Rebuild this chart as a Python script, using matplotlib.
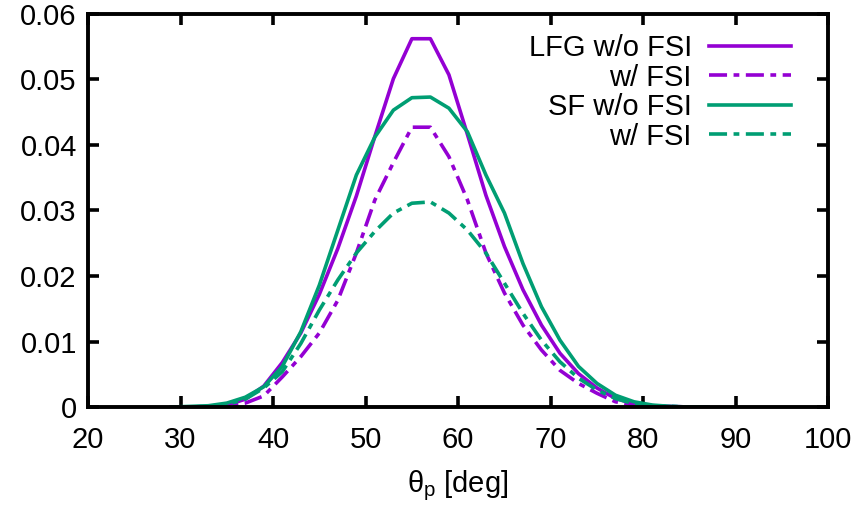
"""
Proton angular distribution, LFG vs SF, with and without FSI
"""

import numpy as np
import matplotlib
matplotlib.use('Agg')
import matplotlib.pyplot as plt

# data (2 deg bins)
theta = [29, 31, 33, 35, 37, 39, 41, 43, 45, 47, 49, 51, 53, 55, 57, 59, 61, 63,
         65, 67, 69, 71, 73, 75, 77, 79, 81, 83, 85, 87]

lfg_nofsi = [0.0, 0.0, 0.0001, 0.0003, 0.0012, 0.0032, 0.0068, 0.0113, 0.0172,
             0.0242, 0.0322, 0.0413, 0.0501, 0.0562, 0.0562, 0.0507, 0.0416,
             0.0323, 0.0245, 0.0179, 0.0125, 0.0082, 0.0051, 0.0029, 0.0013,
             0.0005, 0.0002, 0.0001, 0.0, 0.0]
lfg_fsi = [0.0, 0.0, 0.0, 0.0002, 0.0006, 0.0017, 0.0046, 0.0077, 0.0113,
           0.0163, 0.0235, 0.0316, 0.0373, 0.0427, 0.0427, 0.0382, 0.0316,
           0.0235, 0.0174, 0.0125, 0.0087, 0.0056, 0.0036, 0.0021, 0.0008,
           0.0003, 0.0001, 0.0, 0.0, 0.0]
sf_nofsi = [0.0, 0.0001, 0.0002, 0.0006, 0.0015, 0.0031, 0.0062, 0.0115, 0.0186,
            0.0270, 0.0354, 0.0412, 0.0453, 0.0472, 0.0473, 0.0456, 0.0420,
            0.0354, 0.0296, 0.0219, 0.0153, 0.0102, 0.0062, 0.0036, 0.0018,
            0.0008, 0.0003, 0.0001, 0.0, 0.0]
sf_fsi = [0.0, 0.0, 0.0001, 0.0004, 0.0012, 0.0029, 0.0054, 0.0097, 0.0148,
          0.0194, 0.0235, 0.0268, 0.0296, 0.0311, 0.0313, 0.0296, 0.0270,
          0.0235, 0.0189, 0.0143, 0.0102, 0.0069, 0.0044, 0.0026, 0.0013,
          0.0005, 0.0002, 0.0001, 0.0, 0.0]

labels = ['LFG w/o FSI', 'w/ FSI', 'SF w/o FSI', 'w/ FSI']
xticks = [20, 30, 40, 50, 60, 70, 80, 90, 100]
yticks = [0, 0.01, 0.02, 0.03, 0.04, 0.05, 0.06]
ytick_labels = ['0', '0.01', '0.02', '0.03', '0.04', '0.05', '0.06']

purple = '#9400D3'
green = '#009E73'

plt.rcParams['font.family'] = ['Liberation Sans', 'DejaVu Sans']
plt.rcParams['mathtext.fontset'] = 'custom'
plt.rcParams['mathtext.rm'] = 'Liberation Sans'
plt.rcParams['font.size'] = 21

fig = plt.figure(figsize=(8.54, 5.12), dpi=100)
ax = fig.add_axes([0.103, 0.205, 0.867, 0.768])

lw = 2.6
dashdot = (5, 1.8, 1.6, 1.8)
ax.plot(theta, lfg_nofsi, color=purple, lw=lw, label=labels[0])
ax.plot(theta, lfg_fsi, color=purple, lw=lw, dashes=dashdot, label=labels[1])
ax.plot(theta, sf_nofsi, color=green, lw=lw, label=labels[2])
ax.plot(theta, sf_fsi, color=green, lw=lw, dashes=dashdot, label=labels[3])

ax.set_xlim(20, 100)
ax.set_ylim(0, 0.06)
ax.set_xticks(xticks)
ax.set_yticks(yticks)
ax.set_yticklabels(ytick_labels)
ax.tick_params(direction='in', length=8, width=2.6, top=True, right=True)
ax.tick_params(axis='y', pad=8)
ax.tick_params(axis='x', pad=14)
for s in ax.spines.values():
    s.set_linewidth(2.8)

ax.set_xlabel(r'$\mathrm{θ_p}$ [deg]', labelpad=10)

ax.legend(loc='upper right', frameon=False, markerfirst=False,
          handlelength=2.8, labelspacing=0.05, borderaxespad=0.3,
          handletextpad=0.6, bbox_to_anchor=(0.977, 1.0))

fig.savefig('out.png', dpi=100)
